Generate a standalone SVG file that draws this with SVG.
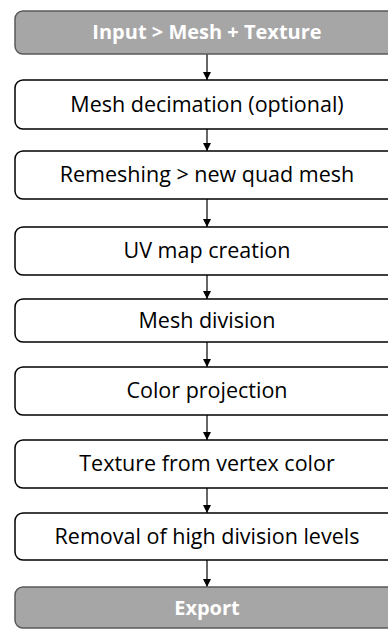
<svg xmlns="http://www.w3.org/2000/svg" width="388" height="629" viewBox="0 0 388 629">
<style>
.n rect{fill:#fff;stroke:#000;stroke-width:1.5}
.g rect{fill:#a6a6a6;stroke:#595959;stroke-width:1.5}
text{font-family:"Open Sans","Liberation Sans",sans-serif;font-size:21.5px;text-anchor:middle;fill:#000}
.g text{fill:#fff;font-weight:bold;font-size:20px}
#edges line{stroke:#000;stroke-width:1.2;marker-end:url(#ah)}
</style>
<defs>
<marker id="ah" viewBox="0 0 10 10" refX="10" refY="5" markerWidth="8" markerHeight="8" markerUnits="userSpaceOnUse" orient="auto">
<path d="M0,0 L10,5 L0,10 z" fill="#000"/>
</marker>
</defs>
<rect width="388" height="629" fill="#fff"/>
<g id="edges">
<line x1="207" y1="54" x2="207" y2="80"/>
<line x1="207" y1="129" x2="207" y2="151"/>
<line x1="207" y1="199" x2="207" y2="227"/>
<line x1="207" y1="275" x2="207" y2="299"/>
<line x1="207" y1="342" x2="207" y2="367"/>
<line x1="207" y1="415" x2="207" y2="440"/>
<line x1="207" y1="488" x2="207" y2="513"/>
<line x1="207" y1="560" x2="207" y2="587"/>
</g>
<g id="n1" class="g"><rect x="15" y="11" width="384" height="43" rx="8"/><text x="207" y="39">Input &gt; Mesh + Texture</text></g>
<g id="n2" class="n"><rect x="15" y="80" width="384" height="49" rx="8"/><text x="207" y="112">Mesh decimation (optional)</text></g>
<g id="n3" class="n"><rect x="15" y="151" width="384" height="48" rx="8"/><text x="207" y="182">Remeshing &gt; new quad mesh</text></g>
<g id="n4" class="n"><rect x="15" y="227" width="384" height="48" rx="8"/><text x="207" y="258">UV map creation</text></g>
<g id="n5" class="n"><rect x="15" y="299" width="384" height="43" rx="8"/><text x="207" y="328">Mesh division</text></g>
<g id="n6" class="n"><rect x="15" y="367" width="384" height="48" rx="8"/><text x="207" y="398">Color projection</text></g>
<g id="n7" class="n"><rect x="15" y="440" width="384" height="48" rx="8"/><text x="207" y="471">Texture from vertex color</text></g>
<g id="n8" class="n"><rect x="15" y="513" width="384" height="47" rx="8"/><text x="207" y="544">Removal of high division levels</text></g>
<g id="n9" class="g"><rect x="15" y="587" width="384" height="41" rx="8"/><text x="207" y="615">Export</text></g>
</svg>
